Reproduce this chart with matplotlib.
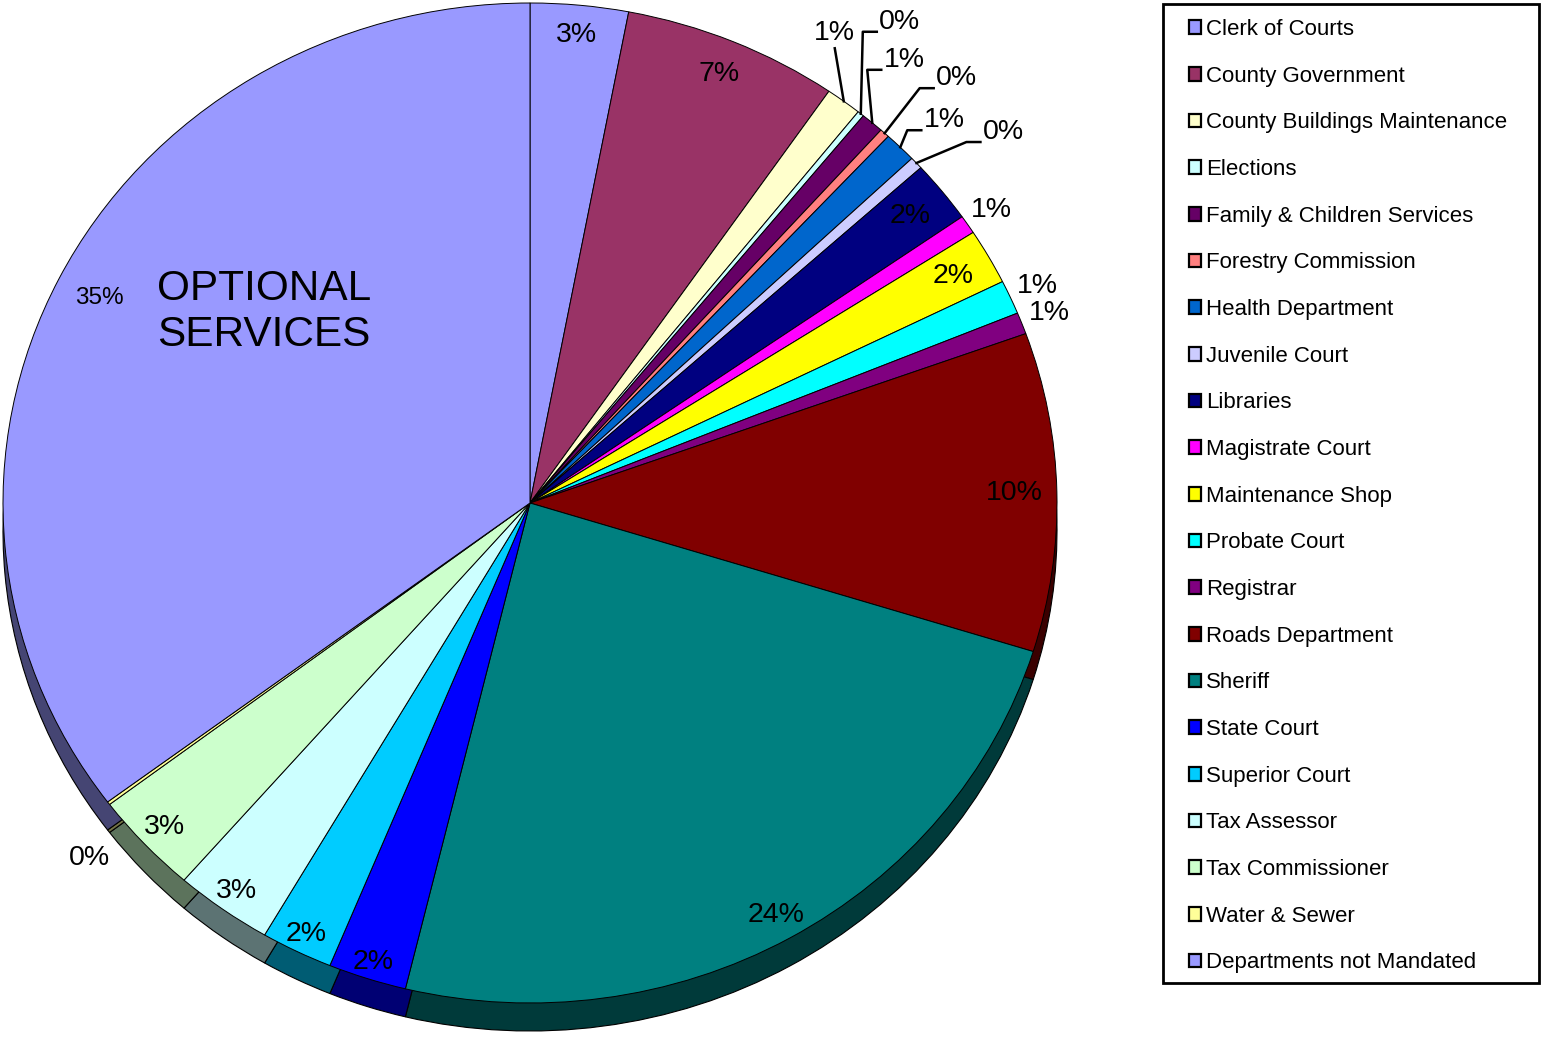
import numpy as np
import matplotlib
matplotlib.use("Agg")
import matplotlib.pyplot as plt
from matplotlib.patches import Patch, Rectangle
from matplotlib.colors import to_rgb

plt.rcParams['font.family'] = ['Liberation Sans', 'DejaVu Sans']

# budget share per department (percent)
departments = ["Clerk of Courts", "County Government", "County Buildings Maintenance",
               "Elections", "Family & Children Services", "Forestry Commission",
               "Health Department", "Juvenile Court", "Libraries", "Magistrate Court",
               "Maintenance Shop", "Probate Court", "Registrar", "Roads Department",
               "Sheriff", "State Court", "Superior Court", "Tax Assessor",
               "Tax Commissioner", "Water & Sewer", "Departments not Mandated"]
shares = [3.0, 6.6, 1.1, 0.2, 0.7, 0.3, 1.0, 0.4, 2.0, 0.6, 1.8, 1.1, 0.7,
          10.3, 24.0, 2.4, 2.2, 3.0, 3.3, 0.1, 35.2]
colors = ["#9999FF", "#993366", "#FFFFCC", "#CCFFFF", "#660066", "#FF8080",
          "#0066CC", "#CCCCFF", "#000080", "#FF00FF", "#FFFF00", "#00FFFF",
          "#800080", "#800000", "#008080", "#0000FF", "#00CCFF", "#CCFFFF",
          "#CCFFCC", "#FFFF99", "#9999FF"]

# label placement: radius for in/out labels, pixel offset for leader labels
label_r = {0: 0.94, 1: 0.93, 8: 0.922, 9: 1.054, 10: 0.922, 11: 1.057, 12: 1.057,
           13: 0.92, 14: 0.948, 15: 0.965, 16: 0.961, 17: 0.955, 18: 0.95,
           20: 0.915}
leader_off = {2: (-9, -68), 3: (39, -92), 4: (32, -63), 5: (72, -55),
              6: (44, -27), 7: (87, -31), 19: (-19, 55)}

W, H = 1541, 1038
fig = plt.figure(figsize=(W / 100, H / 100), dpi=100)

# pie axes: top face spans x 3..1057 px, y 3..1003 px, depth below
depth = 0.056
ax = fig.add_axes([3 / W, (H - 1031) / H, 1054 / W, 1028 / H])

dark = [tuple(c * 0.45 for c in to_rgb(col)) for col in colors]
ax.pie(shares, colors=dark, startangle=90, counterclock=False,
       center=(0, -depth), radius=1, frame=True,
       wedgeprops=dict(edgecolor='black', linewidth=0.8))
wedges, _ = ax.pie(shares, colors=colors, startangle=90, counterclock=False,
                   center=(0, 0), radius=1, frame=True,
                   wedgeprops=dict(edgecolor='black', linewidth=0.7))
ax.set_xlim(-1, 1)
ax.set_ylim(-1 - depth, 1)
ax.set_aspect('auto')
ax.axis('off')

total = sum(shares)
for i, w in enumerate(wedges):
    mid = np.deg2rad((w.theta1 + w.theta2) / 2)
    txt = f"{shares[i] / total * 100:.0f}%"
    if i in leader_off:
        ex, ey = ax.transData.transform((np.cos(mid), np.sin(mid)))
        dx, dy = leader_off[i]
        tx, ty = ex + dx, ey - dy
        fig.text(tx / W, ty / H, txt, ha='center', va='center', fontsize=20.5)
        if i == 19:
            continue
        if i == 2:
            xs, ys = [tx, ex], [ty - 15, ey]
        else:
            xs = [tx - 23, tx - 37, ex]
            ys = [ty - 10, ty - 10, ey]
        fig.add_artist(plt.Line2D(np.array(xs) / W, np.array(ys) / H,
                                  color='black', linewidth=1.8))
    else:
        r = label_r[i]
        fs = 17.5 if i == 20 else 20.5
        ax.text(r * np.cos(mid), r * np.sin(mid), txt, ha='center', va='center',
                fontsize=fs)

fig.text(157 / W, 1 - 312 / H, "OPTIONAL\nSERVICES", ha='left', va='center',
         fontsize=30.5, linespacing=1.2)

# legend
handles = [Patch(facecolor=c, edgecolor='black', linewidth=1.6) for c in colors]
fig.legend(handles, departments, loc='upper left',
           bbox_to_anchor=(1189 / W, 1 - 19 / H), bbox_transform=fig.transFigure,
           frameon=False, fontsize=16, handlelength=0.55, handleheight=0.55,
           handletextpad=0.22, labelspacing=1.155, borderpad=0, borderaxespad=0)
fig.add_artist(Rectangle((1163 / W, 1 - 983 / H), 376 / W, 979 / H,
                         transform=fig.transFigure, fill=False,
                         edgecolor='black', linewidth=2))

fig.savefig("out.png", dpi=100)
